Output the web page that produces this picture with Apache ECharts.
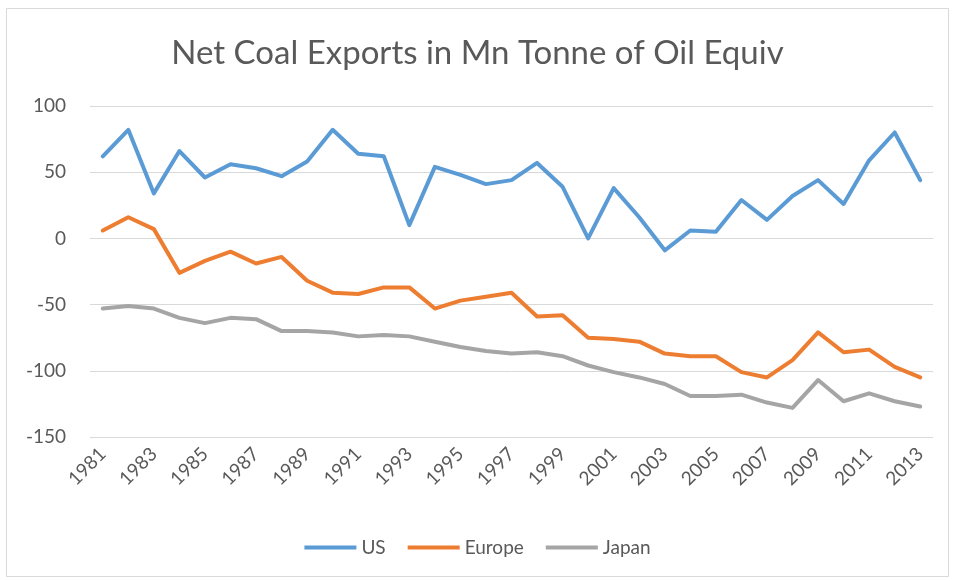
<!DOCTYPE html>
<html>
<head>
<meta charset="utf-8">
<script src="https://cdn.jsdelivr.net/npm/echarts@6/dist/echarts.min.js"></script>
<style>
  html, body { margin: 0; padding: 0; background: #fff; }
  #chart { width: 955px; height: 581px; }
</style>
</head>
<body>
<div id="chart"></div>
<script>
// years 1981..2013
const years = ['1981','1982','1983','1984','1985','1986','1987','1988','1989','1990',
  '1991','1992','1993','1994','1995','1996','1997','1998','1999','2000',
  '2001','2002','2003','2004','2005','2006','2007','2008','2009','2010',
  '2011','2012','2013']

const usValues = [62, 82, 34, 66, 46, 56, 53, 47, 58, 82,
  64, 62, 10, 54, 48, 41, 44, 57, 39, 0,
  38, 16, -9, 6, 5, 29, 14, 32, 44, 26,
  59, 80, 44]

const europeValues = [6, 16, 7, -26, -17, -10, -19, -14, -32, -41,
  -42, -37, -37, -53, -47, -44, -41, -59, -58, -75,
  -76, -78, -87, -89, -89, -101, -105, -92, -71, -86,
  -84, -97, -105]

const japanValues = [-53, -51, -53, -60, -64, -60, -61, -70, -70, -71,
  -74, -73, -74, -78, -82, -85, -87, -86, -89, -96,
  -101, -105, -110, -119, -119, -118, -124, -128, -107, -123,
  -117, -123, -127]

const yTicks = { min: -150, max: 100, interval: 50 }

const font = 'Lato'
const textColor = '#595959'

const chart = echarts.init(document.getElementById('chart'))

function line (name, data, color) {
  return {
    name: name,
    type: 'line',
    data: data,
    symbol: 'none',
    lineStyle: { color: color, width: 4, cap: 'round', join: 'round' },
    itemStyle: { color: color }
  }
}

chart.setOption({
  animation: false,
  textStyle: { fontFamily: font },
  graphic: [{
    type: 'rect',
    shape: { x: 6.5, y: 8.5, width: 942, height: 568 },
    style: { fill: 'none', stroke: '#d9d9d9', lineWidth: 1 },
    silent: true
  }],
  title: {
    text: 'Net Coal Exports in Mn Tonne of Oil Equiv',
    left: 'center',
    top: 32,
    textStyle: { fontFamily: font, fontSize: 33, fontWeight: 'normal', color: textColor }
  },
  legend: {
    top: 533,
    left: 'center',
    itemWidth: 52,
    itemHeight: 4,
    itemGap: 22,
    icon: 'rect',
    textStyle: { fontFamily: font, fontSize: 19, color: textColor, padding: [0, 0, 0, 0] },
    data: ['US', 'Europe', 'Japan']
  },
  grid: { left: 90, right: 22, top: 106, bottom: 144 },
  xAxis: {
    type: 'category',
    data: years,
    boundaryGap: true,
    axisLine: { lineStyle: { color: '#d9d9d9' } },
    axisTick: { show: false },
    axisLabel: {
      interval: 1,
      rotate: 45,
      fontFamily: font,
      fontSize: 19,
      color: textColor,
      margin: 14
    }
  },
  yAxis: {
    type: 'value',
    min: yTicks.min,
    max: yTicks.max,
    interval: yTicks.interval,
    axisLine: { show: false },
    axisTick: { show: false },
    axisLabel: { fontFamily: font, fontSize: 19, color: textColor, margin: 24 },
    splitLine: { lineStyle: { color: '#d9d9d9', width: 1 } }
  },
  series: [
    line('US', usValues, '#5b9bd5'),
    line('Europe', europeValues, '#ed7d31'),
    line('Japan', japanValues, '#a5a5a5')
  ]
})
</script>
</body>
</html>
